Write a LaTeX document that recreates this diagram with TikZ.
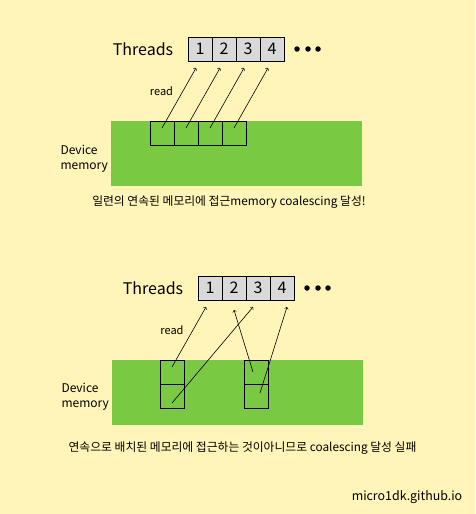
\documentclass[tikz,border=0pt]{standalone}
\usepackage{fontspec}
\setmainfont{Noto Sans CJK KR}
\usetikzlibrary{positioning}
\definecolor{paper}{HTML}{FFF5B8}
\definecolor{mem}{HTML}{7AC943}
\definecolor{thr}{HTML}{D9D9D9}
\begin{document}
\begin{tikzpicture}[x=1pt,y=-1pt,node distance=0pt,
	thread/.style={draw,fill=thr,line width=0.8pt,minimum size=24pt,inner sep=0pt,outer sep=0pt,font=\fontsize{16}{18}\selectfont},
	cell/.style={draw,line width=0.8pt,minimum size=24pt,inner sep=0pt,outer sep=0pt},
	dot/.style={circle,fill=black,inner sep=0pt,minimum size=5.5pt},
	lbl/.style={font=\fontsize{11}{13}\selectfont},
	captext/.style={font=\fontsize{11.8}{14}\selectfont},
	rd/.style={->,line width=0.6pt,shorten >=0pt}]
	\fill[paper] (0,0) rectangle (475,514);
	\useasboundingbox (0,0) rectangle (475,514);
	% coalesced
	\fill[mem] (111,121) rectangle (362,186);
	\node[font=\fontsize{16}{18}\selectfont] (th) at (143,49) {Threads};
	\node[thread] (t1) at (200,49) {1};
	\node[thread] (t2) [right=of t1] {2};
	\node[thread] (t3) [right=of t2] {3};
	\node[thread] (t4) [right=of t3] {4};
	\node[dot] (d1) at (297,49) {};
	\node[dot] (d2) at (308,49) {};
	\node[dot] (d3) at (318,49) {};
	\node[cell] (m1) at (162,133) {};
	\node[cell] (m2) [right=of m1] {};
	\node[cell] (m3) [right=of m2] {};
	\node[cell] (m4) [right=of m3] {};
	\node[lbl] (rd) at (161.5,91) {read};
	\node[lbl,font=\fontsize{12}{15}\selectfont,align=left,anchor=west] (dev) at (57,158.5) {Device\\memory};
	\path[rd]
	([shift={(0,-5)}]m1.center) edge ([shift={(-4,7)}]t1.south)
	([shift={(0,-5)}]m2.center) edge ([shift={(-4,7)}]t2.south)
	([shift={(0,-5)}]m3.center) edge ([shift={(-4,7)}]t3.south)
	([shift={(0,-5)}]m4.center) edge ([shift={(-4,7)}]t4.south);
	\node[captext] (cap1) at (229,202) {일련의 연속된 메모리에 접근memory coalescing 달성!};
	% not coalesced
	\fill[mem] (112,360) rectangle (363,425);
	\node[font=\fontsize{16}{18}\selectfont] (th2) at (153,288) {Threads};
	\node[thread] (u1) at (210,288) {1};
	\node[thread] (u2) [right=of u1] {2};
	\node[thread] (u3) [right=of u2] {3};
	\node[thread] (u4) [right=of u3] {4};
	\node[dot] (e1) at (307,288) {};
	\node[dot] (e2) at (318,288) {};
	\node[dot] (e3) at (328,288) {};
	\node[cell] (a1) at (172,372) {};
	\node[cell] (a2) [below=of a1] {};
	\node[cell] (b1) at (256,372) {};
	\node[cell] (b2) [below=of b1] {};
	\node[lbl] (rd2) at (172,330) {read};
	\node[lbl,font=\fontsize{12}{15}\selectfont,align=left,anchor=west] (dev2) at (58,396.5) {Device\\memory};
	\path[rd]
	([shift={(0,-5)}]a1.center) edge ([shift={(-4,7)}]u1.south)
	([shift={(0,7)}]a2.center) edge ([shift={(-5,7)}]u3.south)
	([shift={(-3,0)}]b1.center) edge ([shift={(0,10)}]u2.south)
	([shift={(4,-3)}]b2.center) edge ([shift={(5,7)}]u4.south);
	\node[captext] (cap2) at (242.5,448) {연속으로 배치된 메모리에 접근하는 것이아니므로 coalescing 달성 실패};
	\node[font=\fontsize{12.4}{14}\selectfont] (site) at (407,497) {micro1dk.github.io};
\end{tikzpicture}
\end{document}
